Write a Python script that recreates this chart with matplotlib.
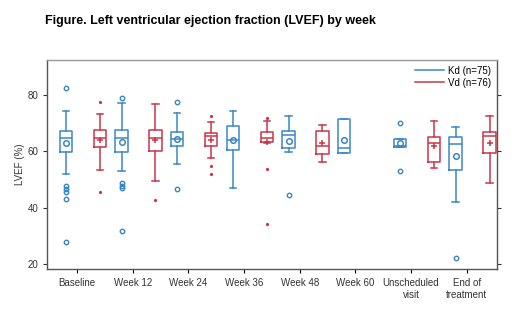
import matplotlib
matplotlib.use("Agg")
import matplotlib.pyplot as plt
from matplotlib.lines import Line2D

plt.rcParams['font.family'] = ['Liberation Sans', 'DejaVu Sans']

### data ###
categories = ["Baseline", "Week 12", "Week 24", "Week 36", "Week 48", "Week 60",
              "Unscheduled\nvisit", "End of\ntreatment"]

# Kd (n=75), one box per category
kd_pos = [0, 1, 2, 3, 4, 5, 6, 7]
kd_whishi = [74.2, 77.2, 73.5, 74.3, 72.5, 71.4, 64.5, 68.6]
kd_q3 = [67.3, 67.5, 66.9, 69.1, 67.1, 71.4, 64.5, 65.2]
kd_med = [64.7, 64.9, 64.3, 64.1, 65.9, 61.2, 62.0, 62.7]
kd_mean = [62.9, 63.4, 64.3, 64.1, 63.7, 64.0, 63.0, 58.4]
kd_q1 = [59.7, 59.8, 62.1, 60.4, 61.1, 59.4, 61.7, 53.3]
kd_whislo = [52.1, 53.1, 55.5, 47.2, 59.8, 59.4, 61.7, 42.2]
kd_fliers = [[82.6, 47.8, 46.8, 45.8, 43.3, 27.9], [78.8, 48.7, 47.8, 47.0, 31.9],
             [77.6, 46.8], [], [44.6], [], [70.0, 53.1], [22.4]]

# Vd (n=76), no box at week 60
vd_pos = [0, 1, 2, 3, 4, 6, 7]
vd_whishi = [73.4, 77.0, 70.4, 70.8, 69.3, 70.9, 72.6]
vd_q3 = [67.6, 67.6, 66.5, 66.9, 67.1, 65.0, 66.9]
vd_med = [64.9, 64.9, 65.5, 64.9, 62.1, 63.1, 65.6]
vd_mean = [64.1, 64.1, 64.1, 63.5, 62.9, 61.9, 63.1]
vd_q1 = [61.5, 60.1, 61.9, 63.5, 59.0, 56.3, 59.6]
vd_whislo = [53.5, 49.4, 57.6, 63.0, 56.4, 54.3, 49.0]
vd_fliers = [[77.4, 45.7], [42.7], [72.7, 54.9, 51.9], [72.0, 53.8, 34.3], [], [], []]

BLUE = "#3a87c3"
RED = "#cc3548"

def make_stats(whislo, q1, med, q3, whishi, mean, fliers) :
  stats = []
  for i in range(len(med)) :
    stats.append(dict(whislo=whislo[i], q1=q1[i], med=med[i], q3=q3[i],
                      whishi=whishi[i], mean=mean[i], fliers=fliers[i]))
  return stats

def draw_group(ax, stats, pos, color, mean_marker, flier_marker, flier_size) :
  ax.bxp(stats, positions=pos, widths=0.22, showmeans=True, patch_artist=False,
         boxprops=dict(color=color, lw=1.1),
         whiskerprops=dict(color=color, lw=1.1),
         capprops=dict(color=color, lw=1.1),
         medianprops=dict(color=color, lw=1.1),
         meanprops=dict(marker=mean_marker, markeredgecolor=color, markerfacecolor='none',
                        markersize=4, markeredgewidth=1.1),
         flierprops=dict(marker=flier_marker, markeredgecolor=color, markerfacecolor=color
                         if flier_marker != 'o' else 'none', markersize=flier_size,
                         markeredgewidth=1.0),
         manage_ticks=False)

fig = plt.figure(figsize=(5.2, 3.16), dpi=100)
ax = fig.add_axes([0.0913, 0.149, 0.864, 0.661])

kd_stats = make_stats(kd_whislo, kd_q1, kd_med, kd_q3, kd_whishi, kd_mean, kd_fliers)
vd_stats = make_stats(vd_whislo, vd_q1, vd_med, vd_q3, vd_whishi, vd_mean, vd_fliers)
draw_group(ax, kd_stats, [p - 0.2 for p in kd_pos], BLUE, 'o', 'o', 3.2)
draw_group(ax, vd_stats, [p + 0.41 for p in vd_pos], RED, '+', '.', 2.6)

ax.set_xlim(-0.53, 7.54)
ax.set_ylim(18.4, 92.4)
ax.set_xticks(range(len(categories)))
ax.set_xticklabels(categories, fontsize=7, color='#333333')
ax.set_yticks([20, 40, 60, 80])
ax.tick_params(axis='y', labelsize=7, colors='#333333', right=True, length=3)
ax.tick_params(axis='x', length=3)
ax.set_ylabel('LVEF (%)', fontsize=7, color='#333333', labelpad=2)
for s in ax.spines.values() :
  s.set_color('#555555')
  s.set_linewidth(1.0)
ax.spines['top'].set_color('#999999')

handles = [Line2D([0], [0], color=BLUE, lw=1.1), Line2D([0], [0], color=RED, lw=1.1)]
ax.legend(handles, ["Kd (n=75)", "Vd (n=76)"], loc='upper right', frameon=False,
          fontsize=7, handlelength=3, borderaxespad=0.2, labelspacing=0.2, handletextpad=0.4)

fig.text(45/520, 1 - 21/316, "Figure. Left ventricular ejection fraction (LVEF) by week",
         fontsize=9, fontweight='bold', va='center', ha='left')

plt.savefig('out.png', dpi=100)
